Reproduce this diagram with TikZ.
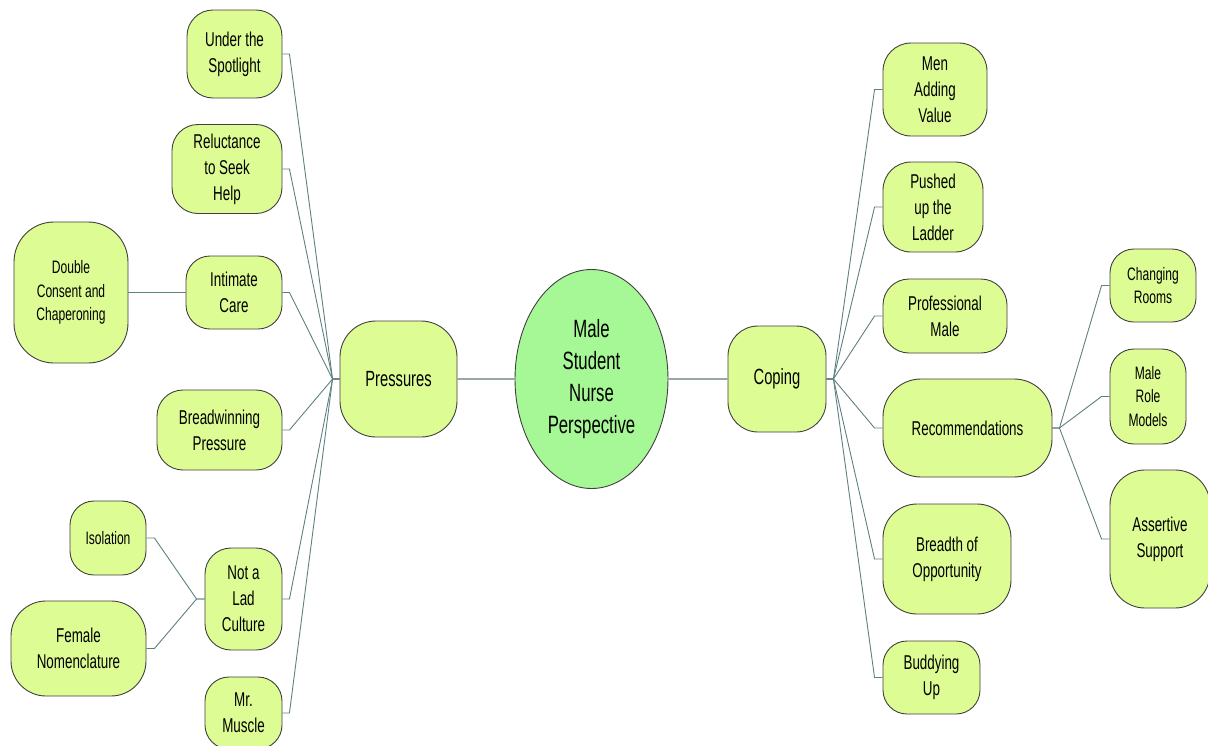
\documentclass[tikz,border=0pt]{standalone}
\usepackage{fontspec}
\setmainfont{Liberation Sans}[FakeStretch=0.67]
\usetikzlibrary{calc,shapes.geometric}
\definecolor{boxfill}{HTML}{DDFC93}
\definecolor{centerfill}{HTML}{A6F795}
\definecolor{linkcol}{HTML}{5F8080}
\definecolor{mainlink}{HTML}{98A8A8}
\tikzset{
  box/.style={draw=black!75, line width=0.9pt, fill=boxfill, rounded corners=#1, align=center, inner sep=0pt,
    font=\fontsize{20}{26}\selectfont},
  box/.default=26pt,
  smalltext/.style={font=\fontsize{18}{23.5}\selectfont},
  hubtext/.style={font=\fontsize{22}{28}\selectfont},
  link/.style={draw=linkcol, line width=0.9pt},
  mainlinkstyle/.style={draw=mainlink, line width=2pt}
}
\begin{document}
\begin{tikzpicture}[x=1pt,y=-1pt]
\useasboundingbox (0,0) rectangle (1208,745);
% center
\node[ellipse, draw=black!75, line width=0.9pt, fill=centerfill, minimum width=153pt, minimum height=219pt, inner sep=0pt, align=center, font=\fontsize{25}{32}\selectfont] (center) at (591.5,379) {Male\\Student\\Nurse\\Perspective};
% left
\node[box, minimum width=95pt, minimum height=88pt] (spot) at (234.5,54) {Under the\\Spotlight};
\node[box, minimum width=110pt, minimum height=89pt] (relu) at (227,169) {Reluctance\\to Seek\\Help};
\node[box=40pt, smalltext, minimum width=114pt, minimum height=141pt] (dbl) at (71,292.5) {Double\\Consent and\\Chaperoning};
\node[box=24pt, minimum width=96pt, minimum height=73pt] (intim) at (234,292.5) {Intimate\\Care};
\node[box=36pt, hubtext, minimum width=117pt, minimum height=116pt] (pres) at (398.5,379) {Pressures};
\node[box, minimum width=125pt, minimum height=80pt] (bread) at (219.5,430) {Breadwinning\\Pressure};
\node[box=24pt, smalltext, minimum width=76pt, minimum height=74pt] (iso) at (108,538) {Isolation};
\node[box=35pt, minimum width=135pt, minimum height=95pt] (fem) at (78.5,648.5) {Female\\Nomenclature};
\node[box, minimum width=77pt, minimum height=102pt] (lad) at (243.5,599) {Not a\\Lad\\Culture};
\node[box=24pt, minimum width=77pt, minimum height=72pt] (mr) at (243.5,713) {Mr.\\Muscle};
% right
\node[box=30pt, hubtext, minimum width=98pt, minimum height=106pt] (cop) at (777,379) {Coping};
\node[box=28pt, minimum width=104pt, minimum height=93pt] (men) at (935,89.5) {Men\\Adding\\Value};
\node[box=28pt, minimum width=100pt, minimum height=90pt] (push) at (933,207) {Pushed\\up the\\Ladder};
\node[box=26pt, minimum width=124pt, minimum height=74pt] (prof) at (945,316) {Professional\\Male};
\node[box=38pt, minimum width=169pt, minimum height=98pt] (rec) at (967.5,428) {Recommendations};
\node[box=34pt, minimum width=128pt, minimum height=110pt] (bre) at (947,559) {Breadth of\\Opportunity};
\node[box=24pt, minimum width=97pt, minimum height=73pt] (bud) at (931.5,677.5) {Buddying\\Up};
\node[box=24pt, smalltext, minimum width=86pt, minimum height=73pt] (chg) at (1153,285.5) {Changing\\Rooms};
\node[box=24pt, smalltext, minimum width=76pt, minimum height=95pt] (role) at (1148,396.5) {Male\\Role\\Models};
\node[box=35pt, minimum width=100pt, minimum height=138pt] (ass) at (1160,539) {Assertive\\Support};
% main links
\draw[mainlinkstyle] (pres.east) -- (center.west);
\draw[mainlinkstyle] (center.east) -- (cop.west);
% pressures links
\foreach \c in {spot,relu,intim,bread,lad,mr}{
  \draw[link] (pres.west) -- ++(-7,0) -- ($(\c.east)+(7,0)$) -- (\c.east);
}
\draw[link] (intim.west) -- (dbl.east);
\foreach \c in {iso,fem}{
  \draw[link] (lad.west) -- ++(-8,0) -- ($(\c.east)+(8,0)$) -- (\c.east);
}
% coping links
\foreach \c in {men,push,prof,rec,bre,bud}{
  \draw[link] (cop.east) -- ++(7,0) -- ($(\c.west)+(-8,0)$) -- (\c.west);
}
\foreach \c in {chg,role,ass}{
  \draw[link] (rec.east) -- ++(7,0) -- ($(\c.west)+(-8,0)$) -- (\c.west);
}
\end{tikzpicture}
\end{document}
